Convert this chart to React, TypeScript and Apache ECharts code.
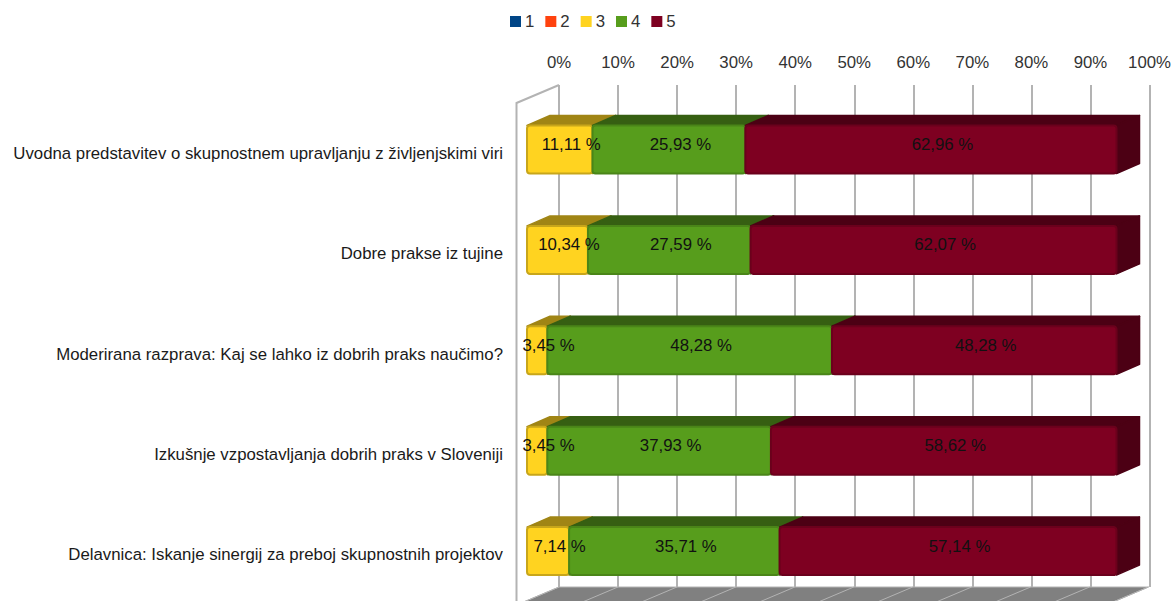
import React, { useEffect, useRef } from "react";
import * as echarts from "echarts";

const categories = [
  "Uvodna predstavitev o skupnostnem upravljanju z življenjskimi viri",
  "Dobre prakse iz tujine",
  "Moderirana razprava: Kaj se lahko iz dobrih praks naučimo?",
  "Izkušnje vzpostavljanja dobrih praks v Sloveniji",
  "Delavnica: Iskanje sinergij za preboj skupnostnih projektov",
];
const seriesNames = ["1", "2", "3", "4", "5"];
const values1 = [0, 0, 0, 0, 0];
const values2 = [0, 0, 0, 0, 0];
const values3 = [11.11, 10.34, 3.45, 3.45, 7.14];
const values4 = [25.93, 27.59, 48.28, 37.93, 35.71];
const values5 = [62.96, 62.07, 48.28, 58.62, 57.14];
const allValues = [values1, values2, values3, values4, values5];
const colors = ["#004586", "#ff420e", "#ffd320", "#579d1c", "#7e0021"];
const topColors = ["#00294f", "#992708", "#a08515", "#365f12", "#4c0014"];
const edgeColors = ["#003a70", "#c9340b", "#c8a61a", "#4a8518", "#6b001c"];
const ticks = [0, 10, 20, 30, 40, 50, 60, 70, 80, 90, 100];

const FONT = "'Liberation Sans', Arial, sans-serif";
const WALL = "#b3b3b3";
const DEPTH_X = 42.5;
const DEPTH_Y = 18;

function renderWalls(params: any, api: any) {
  const cs = params.coordSys;
  const bottom = cs.y + cs.height;
  const left = api.coord([0, 0])[0];
  const children: any[] = [
    {
      type: "polygon",
      shape: {
        points: [
          [cs.x + DEPTH_X, bottom - DEPTH_Y],
          [cs.x + cs.width + DEPTH_X, bottom - DEPTH_Y],
          [cs.x + cs.width, bottom],
          [cs.x, bottom],
        ],
      },
      style: { fill: "#808080", stroke: WALL, lineWidth: 1 },
    },
    {
      type: "polyline",
      shape: {
        points: [
          [left, bottom],
          [left, cs.y],
          [left + DEPTH_X, cs.y - DEPTH_Y],
        ],
      },
      style: { fill: "none", stroke: WALL, lineWidth: 2 },
    },
  ];
  ticks.forEach((t) => {
    const x = api.coord([t, 0])[0];
    children.push({
      type: "line",
      shape: { x1: x + DEPTH_X, y1: bottom - DEPTH_Y, x2: x, y2: bottom },
      style: { stroke: WALL, lineWidth: 1 },
    });
  });
  return { type: "group", children };
}

function makeBarRenderer(idx: number) {
  return (params: any, api: any) => {
    const start = api.value(0);
    const end = api.value(1);
    const value = end - start;
    if (!(value > 0)) return { type: "group", children: [] };
    const cat = api.value(2);
    const band = api.size([0, 1])[1];
    const h = band * 0.478;
    const p0 = api.coord([start, cat]);
    const p1 = api.coord([end, cat]);
    const x0 = p0[0] + 10.5;
    const x1 = p1[0] + 10.5;
    const yt = p0[1] - 3.7 - h / 2;
    const yb = yt + h;
    const dx = 23;
    const dy = -10;
    return {
      type: "group",
      children: [
        {
          type: "polygon",
          shape: { points: [[x0, yt], [x0 + dx, yt + dy], [x1 + dx, yt + dy], [x1, yt]] },
          style: { fill: topColors[idx], stroke: topColors[idx], lineWidth: 1.5, lineJoin: "round" },
        },
        {
          type: "polygon",
          shape: { points: [[x1, yt], [x1 + dx, yt + dy], [x1 + dx, yb + dy], [x1, yb]] },
          style: { fill: topColors[idx], stroke: topColors[idx], lineWidth: 1.5, lineJoin: "round" },
        },
        {
          type: "rect",
          shape: { x: x0, y: yt, width: x1 - x0, height: h, r: 3 },
          style: { fill: colors[idx], stroke: edgeColors[idx], lineWidth: 2 },
        },
        {
          type: "text",
          z2: 100,
          style: {
            x: (x0 + x1 + dx) / 2,
            y: (yt + yb + dy) / 2,
            text: value.toFixed(2).replace(".", ",") + " %",
            fill: "#111111",
            font: `16.8px ${FONT}`,
            align: "center",
            verticalAlign: "middle",
          },
        },
      ],
    };
  };
}

function cumulativeData(idx: number) {
  return categories.map((_, c) => {
    let start = 0;
    for (let k = 0; k < idx; k++) start += allValues[k][c];
    return [start, start + allValues[idx][c], c];
  });
}

export default function App() {
  const ref = useRef<HTMLDivElement>(null);
  useEffect(() => {
    document.body.style.margin = "0";
    document.body.style.overflow = "hidden";
    const chart = echarts.init(ref.current!, undefined, { renderer: "svg" });
    chart.setOption({
      animation: false,
      backgroundColor: "#ffffff",
      textStyle: { fontFamily: FONT },
      legend: {
        data: seriesNames,
        left: 505,
        top: 8,
        icon: "rect",
        itemWidth: 11,
        itemHeight: 11,
        itemGap: 11,
        itemStyle: { borderWidth: 0 },
        textStyle: { fontSize: 16.8, color: "#333333", fontFamily: FONT, padding: [0, 0, 0, -1] },
      },
      grid: [
        { left: 516.5, top: 103, width: 589.5, height: 502, outerBoundsMode: "none" },
        { left: 559, top: 85, width: 590.5, height: 502, outerBoundsMode: "none" },
      ],
      xAxis: [
        { gridIndex: 0, type: "value", min: 0, max: 100, show: false },
        {
          gridIndex: 1,
          type: "value",
          position: "top",
          min: 0,
          max: 100,
          interval: 10,
          axisLine: { show: false },
          axisTick: { show: false },
          axisLabel: { formatter: "{value}%", fontSize: 16.8, color: "#333333", margin: 14, fontFamily: FONT, hideOverlap: false },
          splitLine: { show: true, lineStyle: { color: WALL, width: 2 } },
        },
      ],
      yAxis: [
        {
          gridIndex: 0,
          type: "category",
          inverse: true,
          data: categories,
          axisLine: { show: false },
          axisTick: { show: false },
          splitLine: { show: false },
          axisLabel: { fontSize: 16.8, color: "#1a1a1a", margin: 13.5, fontFamily: FONT, interval: 0, padding: [5, 0, 0, 0] },
        },
        { gridIndex: 1, type: "category", inverse: true, data: categories, show: false },
      ],
      series: [
        {
          type: "custom",
          name: "walls",
          xAxisIndex: 0,
          yAxisIndex: 0,
          silent: true,
          z: 1,
          renderItem: renderWalls,
          data: [[0, 0]],
          encode: { x: 0, y: 1 },
        },
        ...seriesNames.map((name, i) => ({
          type: "custom",
          name,
          xAxisIndex: 0,
          yAxisIndex: 0,
          z: 3,
          itemStyle: { color: colors[i] },
          renderItem: makeBarRenderer(i),
          data: cumulativeData(i),
          encode: { x: [0, 1], y: 2 },
        })),
      ],
    });
    return () => chart.dispose();
  }, []);
  return <div ref={ref} style={{ width: 1175, height: 601 }} />;
}
